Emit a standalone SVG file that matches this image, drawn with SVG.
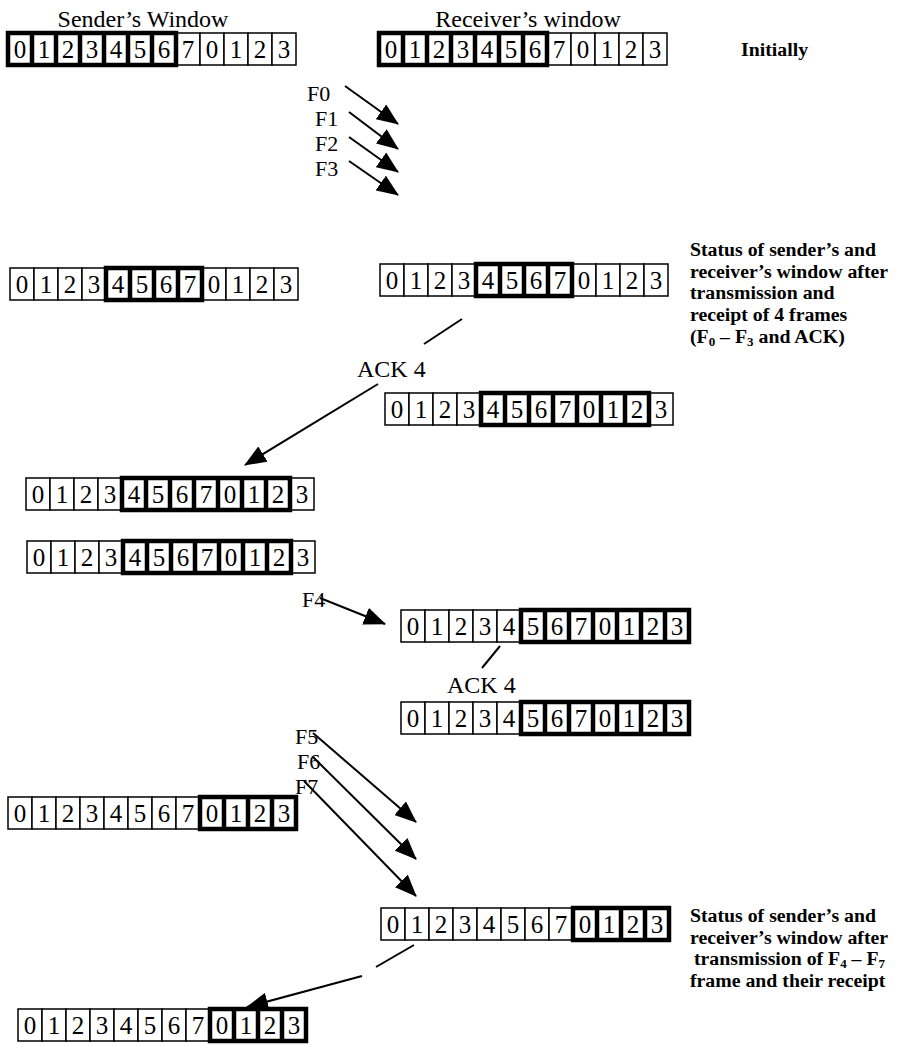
<svg xmlns="http://www.w3.org/2000/svg" xmlns:xlink="http://www.w3.org/1999/xlink" width="899" height="1045" viewBox="0 0 899 1045">
<style>
.c{fill:#fff;stroke:#000;stroke-width:1.5}
.d{font-family:"Liberation Serif","Times New Roman",serif;font-size:25px;text-anchor:middle;fill:#000}
.w{fill:none;stroke:#000;stroke-width:4.5}
.t{font-family:"Liberation Serif","Times New Roman",serif;font-size:24px;fill:#000}
.f{font-family:"Liberation Serif","Times New Roman",serif;font-size:22px;fill:#000}
.s{font-family:"Liberation Serif","Times New Roman",serif;font-size:19.8px;font-weight:bold;fill:#000}
.a{stroke:#000;stroke-width:2;fill:none}
</style>
<defs>
<marker id="ah" viewBox="0 0 22 18" refX="21" refY="9" markerWidth="22" markerHeight="18" markerUnits="userSpaceOnUse" orient="auto"><path d="M0,0 L22,9 L0,18 z" fill="#000"/></marker>
<g id="cells">
<rect class="c" x="0" y="0" width="24" height="32"/><rect class="c" x="24" y="0" width="24" height="32"/><rect class="c" x="48" y="0" width="24" height="32"/><rect class="c" x="72" y="0" width="24" height="32"/><rect class="c" x="96" y="0" width="24" height="32"/><rect class="c" x="120" y="0" width="24" height="32"/><rect class="c" x="144" y="0" width="24" height="32"/><rect class="c" x="168" y="0" width="24" height="32"/><rect class="c" x="192" y="0" width="24" height="32"/><rect class="c" x="216" y="0" width="24" height="32"/><rect class="c" x="240" y="0" width="24" height="32"/><rect class="c" x="264" y="0" width="24" height="32"/>
<text class="d" x="12" y="25">0</text><text class="d" x="36" y="25">1</text><text class="d" x="60" y="25">2</text><text class="d" x="84" y="25">3</text><text class="d" x="108" y="25">4</text><text class="d" x="132" y="25">5</text><text class="d" x="156" y="25">6</text><text class="d" x="180" y="25">7</text><text class="d" x="204" y="25">0</text><text class="d" x="228" y="25">1</text><text class="d" x="252" y="25">2</text><text class="d" x="276" y="25">3</text>
</g>
<path id="w06" class="w" d="M0,0 H168 V32 H0 Z M24,0 V32 M48,0 V32 M72,0 V32 M96,0 V32 M120,0 V32 M144,0 V32"/>
<path id="w47" class="w" d="M96,0 H192 V32 H96 Z M120,0 V32 M144,0 V32 M168,0 V32"/>
<path id="w410" class="w" d="M96,0 H264 V32 H96 Z M120,0 V32 M144,0 V32 M168,0 V32 M192,0 V32 M216,0 V32 M240,0 V32"/>
<path id="w511" class="w" d="M120,0 H288 V32 H120 Z M144,0 V32 M168,0 V32 M192,0 V32 M216,0 V32 M240,0 V32 M264,0 V32"/>
<path id="w811" class="w" d="M192,0 H288 V32 H192 Z M216,0 V32 M240,0 V32 M264,0 V32"/>
</defs>
<rect width="899" height="1045" fill="#fff"/>
<g id="labels">
<text class="t" x="143" y="27" text-anchor="middle">Sender’s Window</text>
<text class="t" x="528" y="27" text-anchor="middle">Receiver’s window</text>
<text class="s" x="741" y="56">Initially</text>
</g>
<g id="sender1" transform="translate(8,33)"><use xlink:href="#cells"/><use xlink:href="#w06"/></g>
<g id="receiver1" transform="translate(379,33)"><use xlink:href="#cells"/><use xlink:href="#w06"/></g>
<g id="sender2" transform="translate(10,268)"><use xlink:href="#cells"/><use xlink:href="#w47"/></g>
<g id="receiver2" transform="translate(380,264)"><use xlink:href="#cells"/><use xlink:href="#w47"/></g>
<g id="status1">
<text class="s" x="690" y="256">Status of sender’s and</text>
<text class="s" x="690" y="278">receiver’s window after</text>
<text class="s" x="690" y="299">transmission and</text>
<text class="s" x="690" y="321">receipt of 4 frames</text>
<text class="s" x="690" y="343">(F<tspan font-size="13" dy="3">0</tspan><tspan dy="-3"> – F</tspan><tspan font-size="13" dy="3">3</tspan><tspan dy="-3"> and ACK)</tspan></text>
</g>
<g id="receiver3" transform="translate(385,393)"><use xlink:href="#cells"/><use xlink:href="#w410"/></g>
<g id="sender3" transform="translate(26,478)"><use xlink:href="#cells"/><use xlink:href="#w410"/></g>
<g id="sender4" transform="translate(27,541)"><use xlink:href="#cells"/><use xlink:href="#w410"/></g>
<g id="receiver4" transform="translate(401,610)"><use xlink:href="#cells"/><use xlink:href="#w511"/></g>
<g id="receiver5" transform="translate(401,702)"><use xlink:href="#cells"/><use xlink:href="#w511"/></g>
<g id="sender5" transform="translate(8,797)"><use xlink:href="#cells"/><use xlink:href="#w811"/></g>
<g id="receiver6" transform="translate(381,908)"><use xlink:href="#cells"/><use xlink:href="#w811"/></g>
<g id="sender6" transform="translate(18,1009)"><use xlink:href="#cells"/><use xlink:href="#w811"/></g>
<g id="status2">
<text class="s" x="690" y="922">Status of sender’s and</text>
<text class="s" x="690" y="944">receiver’s window after</text>
<text class="s" x="694" y="965">transmission of F<tspan font-size="13" dy="3">4</tspan><tspan dy="-3"> – F</tspan><tspan font-size="13" dy="3">7</tspan></text>
<text class="s" x="690" y="987">frame and their receipt</text>
</g>
<g id="frame-labels">
<text class="f" x="307" y="101">F0</text>
<text class="f" x="315" y="126">F1</text>
<text class="f" x="315" y="151">F2</text>
<text class="f" x="315" y="176">F3</text>
<text class="t" x="357" y="377">ACK 4</text>
<text class="f" x="302" y="607">F4</text>
<text class="t" x="447" y="693">ACK 4</text>
<text class="f" x="295" y="744">F5</text>
<text class="f" x="297" y="769">F6</text>
<text class="f" x="295" y="794">F7</text>
</g>
<g id="connectors">
<line class="a" x1="345" y1="86" x2="398" y2="124" marker-end="url(#ah)"/>
<line class="a" x1="349" y1="112" x2="398" y2="149" marker-end="url(#ah)"/>
<line class="a" x1="349" y1="137" x2="398" y2="172" marker-end="url(#ah)"/>
<line class="a" x1="349" y1="161" x2="398" y2="195" marker-end="url(#ah)"/>
<line class="a" x1="462" y1="319" x2="424" y2="344"/>
<line class="a" x1="378" y1="384" x2="245" y2="465" marker-end="url(#ah)"/>
<line class="a" x1="320" y1="598" x2="385" y2="624" marker-end="url(#ah)"/>
<line class="a" x1="500" y1="646" x2="482" y2="668"/>
<line class="a" x1="313" y1="733" x2="416" y2="822" marker-end="url(#ah)"/>
<line class="a" x1="313" y1="757" x2="416" y2="859" marker-end="url(#ah)"/>
<line class="a" x1="304" y1="781" x2="416" y2="896" marker-end="url(#ah)"/>
<line class="a" x1="414" y1="945" x2="376" y2="967"/>
<line class="a" x1="362" y1="976" x2="247" y2="1007" marker-end="url(#ah)"/>
</g>
</svg>
